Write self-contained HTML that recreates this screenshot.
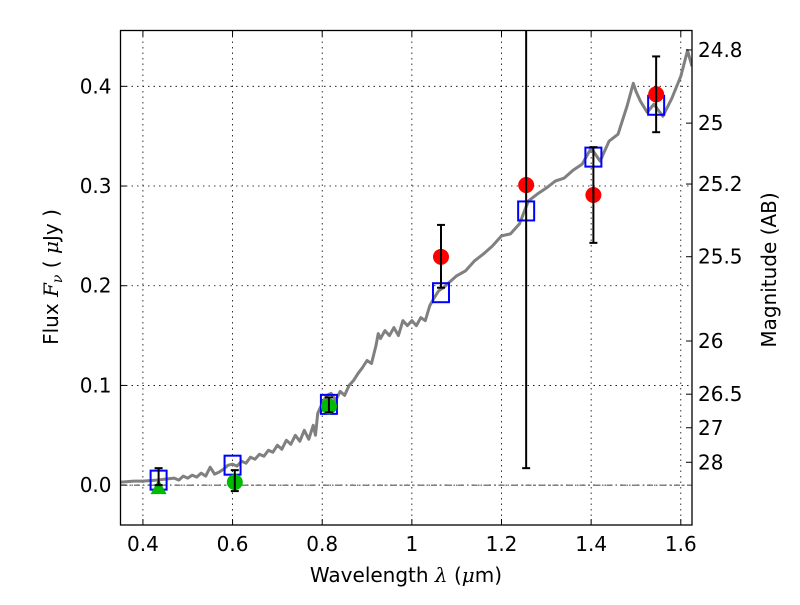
<!DOCTYPE html>
<html><head><meta charset="utf-8"><style>
body{margin:0;background:#fff;}
svg{font-family:"DejaVu Sans","Liberation Sans",sans-serif;}
</style></head><body>
<svg id="chart" width="800" height="600" viewBox="0 0 800 600">
<g id="grid"></g>
<g id="marks"></g>
<rect x="120.5" y="30.5" width="571.5" height="494.5" fill="none" stroke="#000" stroke-width="1.3"/>
<g id="axes"></g>
<text x="406" y="582" font-size="20" text-anchor="middle">Wavelength  <tspan font-style="italic" font-family="DejaVu Serif,serif">λ</tspan> (<tspan font-style="italic" font-family="DejaVu Serif,serif">μ</tspan>m)</text>
<text transform="translate(58,277) rotate(-90)" font-size="20" text-anchor="middle">Flux  <tspan font-style="italic" font-family="DejaVu Serif,serif">F</tspan><tspan font-style="italic" font-family="DejaVu Serif,serif" font-size="14" dy="4">ν</tspan><tspan dy="-4">  ( </tspan><tspan font-style="italic" font-family="DejaVu Serif,serif">μ</tspan>Jy )</text>
<text transform="translate(776,270) rotate(-90)" font-size="20" text-anchor="middle">Magnitude (AB)</text>
</svg>
<script>
const specX=[0.35,0.38,0.40,0.43,0.45,0.47,0.48,0.49,0.50,0.51,0.52,0.53,0.54,0.55,0.56,0.57,0.58,0.59,0.60,0.61,0.62,0.63,0.64,0.65,0.66,0.67,0.68,0.69,0.70,0.71,0.72,0.73,0.74,0.75,0.76,0.77,0.78,0.785,0.79,0.80,0.81,0.82,0.83,0.84,0.85,0.86,0.87,0.88,0.89,0.90,0.91,0.92,0.925,0.93,0.94,0.95,0.96,0.97,0.98,0.99,1.00,1.01,1.02,1.03,1.04,1.05,1.06,1.07,1.08,1.10,1.12,1.14,1.16,1.18,1.20,1.22,1.24,1.26,1.28,1.30,1.32,1.34,1.36,1.38,1.40,1.42,1.44,1.46,1.48,1.494,1.50,1.51,1.525,1.54,1.56,1.58,1.60,1.615,1.625];
const specY=[0.003,0.004,0.004,0.005,0.006,0.007,0.005,0.009,0.007,0.010,0.008,0.012,0.009,0.018,0.011,0.013,0.016,0.020,0.021,0.019,0.024,0.022,0.028,0.026,0.031,0.029,0.035,0.033,0.040,0.036,0.045,0.041,0.050,0.044,0.055,0.046,0.060,0.050,0.072,0.082,0.090,0.092,0.085,0.094,0.090,0.100,0.105,0.112,0.118,0.125,0.122,0.140,0.152,0.147,0.155,0.150,0.158,0.150,0.165,0.160,0.165,0.160,0.168,0.165,0.180,0.188,0.195,0.198,0.202,0.210,0.215,0.225,0.232,0.240,0.250,0.252,0.262,0.285,0.292,0.298,0.305,0.308,0.316,0.322,0.338,0.325,0.345,0.352,0.380,0.403,0.395,0.385,0.374,0.382,0.370,0.388,0.410,0.436,0.420];
const modelX=[0.435,0.600,0.815,1.065,1.255,1.405,1.545];
const modelY=[0.005,0.020,0.081,0.193,0.275,0.329,0.381];
const redX=[1.065,1.255,1.405,1.545];
const redY=[0.229,0.301,0.291,0.392];
const redLo=[0.198,0.017,0.243,0.354];
const redHi=[0.261,0.600,0.339,0.430];
const grnX=[0.605,0.815];
const grnY=[0.003,0.079];
const grnLo=[-0.006,0.073];
const grnHi=[0.015,0.088];
const triX=[0.435];
const triY=[-0.002];
const triLo=[0.000];
const triHi=[0.017];
const xTicks=[0.4,0.6,0.8,1.0,1.2,1.4,1.6];
const xTickLabels=["0.4","0.6","0.8","1","1.2","1.4","1.6"];
const yTicks=[0.0,0.1,0.2,0.3,0.4];
const yTickLabels=["0.0","0.1","0.2","0.3","0.4"];
const magTicks=[24.8,25,25.2,25.5,26,26.5,27,28];
const magTickLabels=["24.8","25","25.2","25.5","26","26.5","27","28"];

const L=120.5,R=692,T=30.5,B=525;
const X0=0.35,X1=1.625,Y0=-0.04,Y1=0.456;
const sx=v=>L+(v-X0)/(X1-X0)*(R-L);
const sy=v=>B-(v-Y0)/(Y1-Y0)*(B-T);
const NS="http://www.w3.org/2000/svg";
function mk(tag,parent,attrs){const e=document.createElementNS(NS,tag);for(const k in attrs)e.setAttribute(k,attrs[k]);parent.appendChild(e);return e;}
const grid=document.getElementById('grid'),marks=document.getElementById('marks'),axes=document.getElementById('axes');

xTicks.forEach((t,i)=>{
  const g=mk('line',grid,{x1:sx(t),x2:sx(t),y1:T,y2:B,stroke:'#000','stroke-width':0.8,'stroke-dasharray':'1.5,4'});
  
  
  const tk=mk('line',axes,{x1:sx(t),x2:sx(t),y1:B,y2:B-6,stroke:'#000','stroke-width':1});
  
  
  const tk2=mk('line',axes,{x1:sx(t),x2:sx(t),y1:T,y2:T+6,stroke:'#000','stroke-width':1});
  
  
  const lb=mk('text',axes,{x:sx(t),y:B+26,'font-size':20,'text-anchor':'middle'});
  lb.textContent=xTickLabels[i];
  
  
});
yTicks.forEach((t,i)=>{
  const g=mk('line',grid,{x1:L,x2:R,y1:sy(t),y2:sy(t),stroke:'#000','stroke-width':0.8,'stroke-dasharray':'1.5,4'});
  
  
  const tk=mk('line',axes,{x1:L,x2:L+6,y1:sy(t),y2:sy(t),stroke:'#000','stroke-width':1});
  
  
  const lb=mk('text',axes,{x:L-9,y:sy(t)+7,'font-size':20,'text-anchor':'end'});
  lb.textContent=yTickLabels[i];
  
  
});
const zl=mk('line',grid,{x1:L,x2:R,y1:sy(0),y2:sy(0),stroke:'#000','stroke-width':0.8,'stroke-dasharray':'6,3,1.5,3'});


magTicks.forEach((m,i)=>{
  const f=Math.pow(10,-0.4*(m-23.9));
  const y=sy(f);
  const tk=mk('line',axes,{x1:R-6,x2:R,y1:y,y2:y,stroke:'#000','stroke-width':1});
  
  
  const lb=mk('text',axes,{x:R+6,y:y+7,'font-size':20});
  lb.textContent=magTickLabels[i];
  
  
});

const clip=mk('clipPath',marks,{id:'pc'});
mk('rect',clip,{x:L,y:T,width:R-L,height:B-T});
const mg=mk('g',marks,{'clip-path':'url(#pc)'});
const sp=mk('polyline',mg,{points:specX.map((x,i)=>sx(x)+','+sy(specY[i])).join(' '),fill:'none',stroke:'#808080','stroke-width':3,'stroke-linejoin':'round'});


modelX.forEach((x,i)=>{
  const r=mk('rect',mg,{x:sx(x)-8,y:sy(modelY[i])-9.5,width:16,height:19,fill:'none',stroke:'#0000ff','stroke-width':2});
  
  
});
function err(x,lo,hi,name){
  const g=mk('g',mg,{stroke:'#000','stroke-width':2});
  
  
  mk('line',g,{x1:sx(x),x2:sx(x),y1:sy(lo),y2:sy(hi)});
  mk('line',g,{x1:sx(x)-4,x2:sx(x)+4,y1:sy(lo),y2:sy(lo)});
  mk('line',g,{x1:sx(x)-4,x2:sx(x)+4,y1:sy(hi),y2:sy(hi)});
}
triX.forEach((x,i)=>{
  const p=mk('polygon',mg,{points:`${sx(x)},${sy(triY[i])-8} ${sx(x)-8},${sy(triY[i])+7} ${sx(x)+8},${sy(triY[i])+7}`,fill:'#00bb00'});
  
  
  err(x,triLo[i],triHi[i],'triangle-error-bar');
});
grnX.forEach((x,i)=>{
  const c=mk('circle',mg,{cx:sx(x),cy:sy(grnY[i]),r:8,fill:'#00bb00'});
  
  
  err(x,grnLo[i],grnHi[i],'green-error-bar');
});
redX.forEach((x,i)=>{
  const c=mk('circle',mg,{cx:sx(x),cy:sy(redY[i]),r:8,fill:'#ff0000'});
  
  
  err(x,redLo[i],redHi[i],'red-error-bar');
});
</script>
</body></html>
